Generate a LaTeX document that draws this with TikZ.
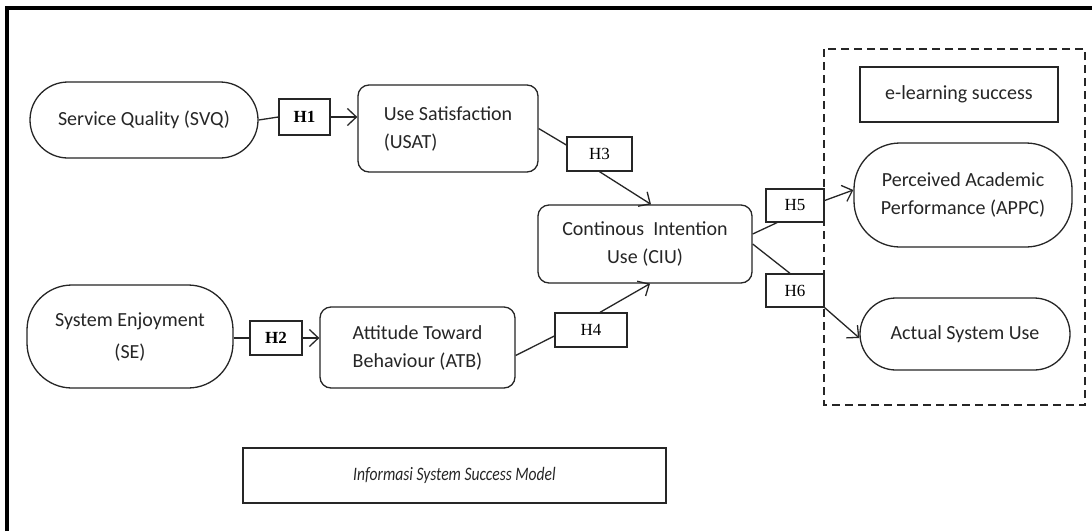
\documentclass[tikz,border=0pt]{standalone}
\usepackage{fontspec}
\usepackage{graphicx}
\setmainfont{Carlito}
\newfontfamily\hfont{Liberation Serif}
\usetikzlibrary{arrows.meta}
\definecolor{ink}{HTML}{262626}
\tikzset{
  box/.style={draw=ink, line width=1.3pt, inner sep=0pt, align=center, text=ink,
    font=\fontsize{20}{28}\selectfont},
  rbox/.style={box, rounded corners=11pt},
  pill/.style={box, rounded corners=#1},
  hbox/.style={draw=ink, line width=1.3pt, inner sep=0pt, text=black, fill=white,
    font=\hfont\fontsize{17}{20}\selectfont},
  link/.style={draw=ink, line width=1.3pt},
  arr/.style={link, -{Straight Barb[length=9pt,width=17pt,line width=1.3pt]}},
}
\begin{document}
\begin{tikzpicture}[x=1pt,y=-1pt]
\useasboundingbox (0,0) rectangle (1092,531);
\fill[white] (0,0) rectangle (1092,531);
% frame
\draw[line width=3.5pt, black] (7,531) -- (7,8) -- (1092,8);
% dashed group
\draw[ink, line width=1.8pt, dash pattern=on 8pt off 5pt] (824,49) rectangle (1085,405);

\node[pill=38pt, minimum width=228pt, minimum height=76pt] (svq) at (144,120) {Service Quality (SVQ)};
\node[hbox, minimum width=51pt, minimum height=36pt] (h1) at (304.5,117) {\bfseries H1};
\node[rbox, minimum width=180pt, minimum height=87pt, align=left] (usat) at (448,128.5) {Use Satisfaction\\ (USAT)};
\node[hbox, minimum width=65pt, minimum height=34pt] (h3) at (599.5,154) {H3};
\node[rbox, minimum width=214pt, minimum height=78pt] (ciu) at (645,244) {Continous\ \ Intention\\Use (CIU)};
\node[hbox, minimum width=72pt, minimum height=34pt] (h4) at (591,330) {H4};
\node[pill=45pt, minimum width=206pt, minimum height=103pt] (se) at (130,336.5) {System Enjoyment\\[4pt](SE)};
\node[hbox, minimum width=52pt, minimum height=34pt] (h2) at (276,338) {\bfseries H2};
\node[rbox, minimum width=195pt, minimum height=81pt] (atb) at (417.5,347.5) {Attitude Toward\\Behaviour (ATB)};
\node[box, minimum width=198pt, minimum height=55pt] (els) at (959,94.5) {e-learning success};
\node[pill=46pt, minimum width=218pt, minimum height=104pt] (appc) at (963,195) {Perceived Academic\\Performance (APPC)};
\node[pill=36pt, minimum width=210pt, minimum height=72pt] (asu) at (965,334) {Actual System Use};
\node[hbox, minimum width=58pt, minimum height=33pt] (h5) at (795,205.5) {H5};
\node[hbox, minimum width=58pt, minimum height=33pt] (h6) at (795,290.5) {H6};
\node[box, minimum width=423pt, minimum height=55pt, font=\itshape\fontsize{19}{22}\selectfont] (ism) at (454.5,475.5) {\scalebox{0.82}[1]{Informasi System Success Model}};

% connectors
\draw[link] (svq.east) -- (h1.west);
\draw[arr] (h1.east) -- (usat.west |- h1.east);
\draw[link] (se.east |- h2.west) -- (h2.west);
\draw[arr] (h2.east) -- (atb.west |- h2.east);
\draw[link] (usat.east) -- ([yshift=9pt]h3.west);
\draw[arr] (h3.south) -- ([xshift=6pt]ciu.north);
\draw[link] ([yshift=-8pt]atb.east) -- ([yshift=-6pt]h4.west);
\draw[arr] ([xshift=9pt]h4.north) -- ([xshift=5pt]ciu.south);
\draw[link] ([yshift=10pt]ciu.east) -- ([xshift=-18pt]h5.south);
\draw[link] ([yshift=0pt]ciu.east) -- ([xshift=-5pt]h6.north);
\draw[arr] ([yshift=5pt]h5.east) -- ([yshift=5pt]appc.west);
\draw[arr] (h6.south east) -- ([yshift=-4pt]asu.west);
\end{tikzpicture}
\end{document}
